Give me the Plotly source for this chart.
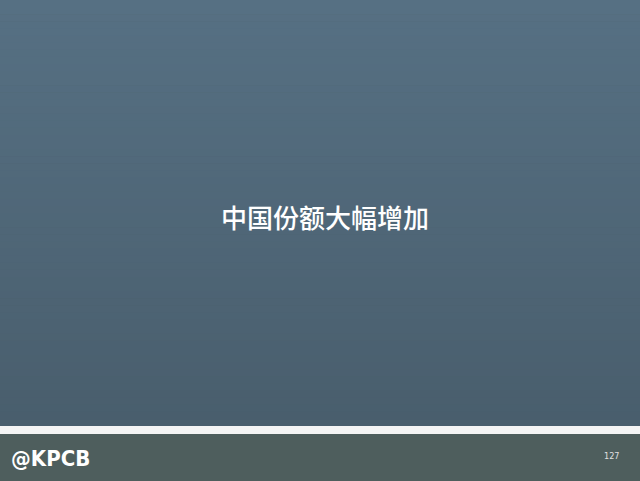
import plotly.graph_objects as go

title_text = "中国份额大幅增加"
logo_text = "@KPCB"
page_number = "127"

W, H = 640, 481
top_rgb = (86, 112, 131)
bot_rgb = (73, 94, 109)
footer_color = "#4e5e5d"

fig = go.Figure()
shapes = []
n = 60
main_bottom = 1 - 426 / H
for i in range(n):
    t = i / (n - 1)
    r = round(top_rgb[0] + (bot_rgb[0] - top_rgb[0]) * t)
    g = round(top_rgb[1] + (bot_rgb[1] - top_rgb[1]) * t)
    b = round(top_rgb[2] + (bot_rgb[2] - top_rgb[2]) * t)
    y1 = 1 - (1 - main_bottom) * i / n
    y0 = 1 - (1 - main_bottom) * (i + 1) / n
    shapes.append(dict(type="rect", xref="paper", yref="paper", x0=0, x1=1,
                       y0=y0 - 0.001, y1=y1, fillcolor=f"rgb({r},{g},{b})",
                       line=dict(width=0), layer="below"))
# white band
shapes.append(dict(type="rect", xref="paper", yref="paper", x0=0, x1=1,
                   y0=1 - 434 / H, y1=main_bottom, fillcolor="#f4f4f4",
                   line=dict(width=0), layer="below"))
# footer
shapes.append(dict(type="rect", xref="paper", yref="paper", x0=0, x1=1,
                   y0=0, y1=1 - 434 / H, fillcolor=footer_color,
                   line=dict(width=0), layer="below"))

annotations = [
    dict(text=title_text, x=325 / W, y=1 - 216 / H, xref="paper", yref="paper",
         showarrow=False, xanchor="center", yanchor="middle",
         font=dict(family="Noto Sans CJK SC", size=26, color="white", weight=500)),
    dict(text=logo_text, x=9 / W, y=1 - 458 / H, xref="paper", yref="paper",
         showarrow=False, xanchor="left", yanchor="middle",
         font=dict(family="DejaVu Sans Condensed", size=22, color="white", weight=700)),
    dict(text=page_number, x=621 / W, y=1 - 456 / H, xref="paper", yref="paper",
         showarrow=False, xanchor="right", yanchor="middle",
         font=dict(family="DejaVu Sans Condensed", size=9, color="#e0e0e0")),
]

fig.update_layout(
    width=W, height=H,
    margin=dict(l=0, r=0, t=0, b=0),
    paper_bgcolor=footer_color, plot_bgcolor="rgba(0,0,0,0)",
    xaxis=dict(visible=False), yaxis=dict(visible=False),
    shapes=shapes, annotations=annotations, showlegend=False,
)
fig.write_html("out.html", config={"displayModeBar": False},
               post_script="document.body.style.margin='0';document.body.style.overflow='hidden';")
